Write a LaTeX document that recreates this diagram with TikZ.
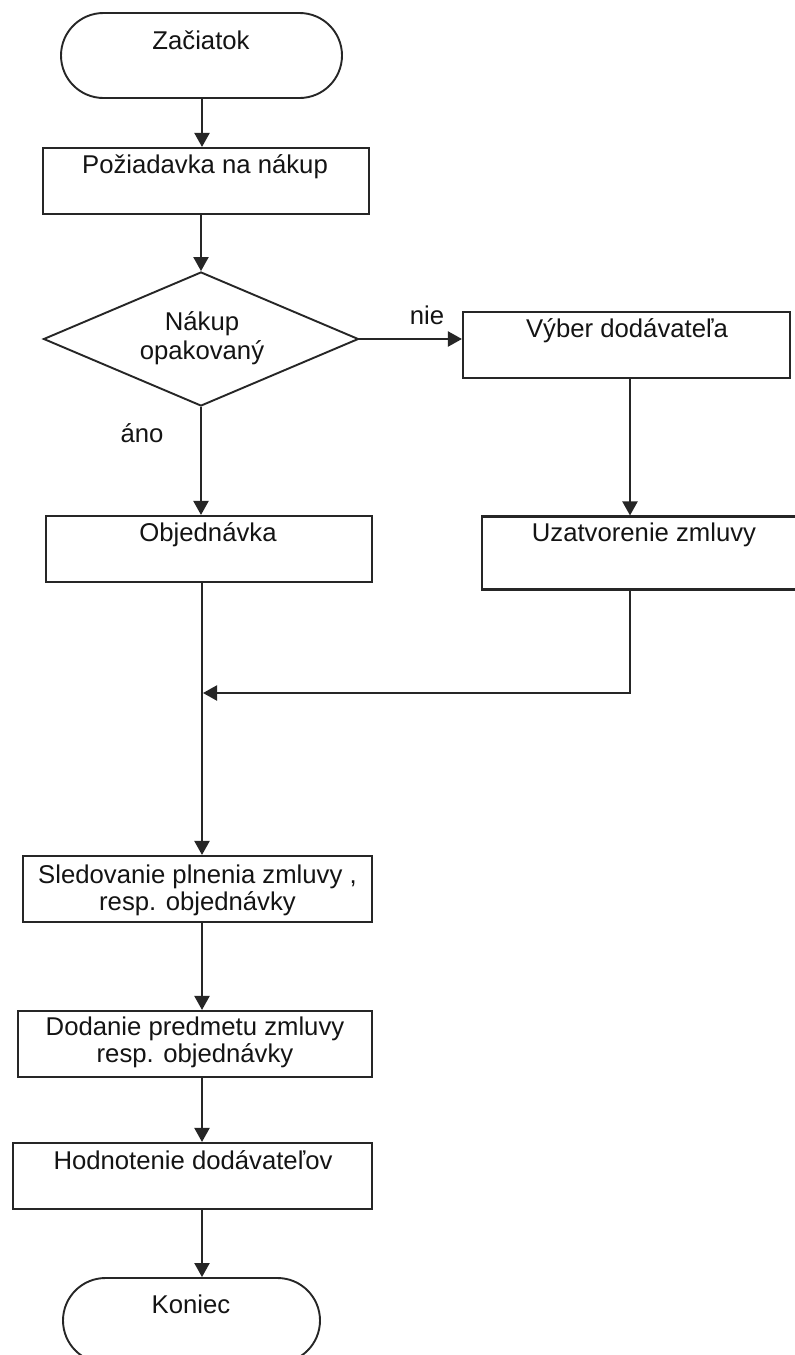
\documentclass[tikz,border=0pt]{standalone}
\usepackage{fontspec}
\setmainfont{Liberation Sans}
\usetikzlibrary{shapes.geometric,shapes.misc,arrows.meta,calc}
\newcommand\twoline[2]{\begin{tabular}[t]{@{}c@{}}#1\\#2\end{tabular}}
\begin{document}
\begin{tikzpicture}[x=1pt,y=-1pt,
  every node/.style={font=\fontsize{25.7}{27}\selectfont},
  shp/.style={draw=black!85, line width=2.1pt, inner sep=0pt, fill=white},
  box/.style={shp, rectangle},
  term/.style={shp, rounded rectangle, line width=1.9pt},
  dec/.style={shp, diamond, line width=1.9pt},
  txt/.style={anchor=base, inner sep=0pt, align=center, text=black!92},
  line/.style={draw=black!85, line width=2.1pt},
  arr/.style={line, -{Triangle[width=15pt,length=14pt]}},
]
\clip (0,0) rectangle (795,1355);
\fill[white] (0,0) rectangle (795,1355);

% shapes
\node[term, minimum width=281pt, minimum height=85pt] (start) at (201.5,55.5) {};
\node[box, minimum width=326pt, minimum height=66pt] (req) at (206,181) {};
\node[dec, minimum width=315pt, minimum height=134pt] (dec) at (201,339) {};
\node[box, minimum width=327pt, minimum height=66pt] (sel) at (626.5,345) {};
\node[box, minimum width=326pt, minimum height=66pt] (ord) at (209,549) {};
\node[box, minimum width=324pt, minimum height=73pt] (con) at (644,553) {};
\node[box, minimum width=349pt, minimum height=66pt] (mon) at (197.5,889) {};
\node[box, minimum width=354pt, minimum height=66pt] (del) at (195,1044) {};
\node[box, minimum width=359pt, minimum height=66pt] (eva) at (192.5,1176) {};
\node[term, minimum width=257pt, minimum height=85pt] (end) at (191.5,1320.5) {};

% texts
\node[txt] (tstart) at (201,49) {Začiatok};
\node[txt] (treq) at (205,173) {Požiadavka na nákup};
\node[txt, font=\fontsize{25.7}{29.5}\selectfont] (tdec) at (202,330) {\twoline{Nákup}{opakovaný}};
\node[txt] (tnie) at (427,324) {nie};
\node[txt] (tsel) at (627,337) {Výber dodávateľa};
\node[txt] (tano) at (142,442) {áno};
\node[txt] (tord) at (208,541) {Objednávka};
\node[txt] (tcon) at (644,541) {Uzatvorenie zmluvy};
\node[txt] (tmon) at (197.5,883) {\twoline{Sledovanie plnenia zmluvy ,}{resp. objednávky}};
\node[txt] (tdel) at (195,1035) {\twoline{Dodanie predmetu zmluvy}{resp. objednávky}};
\node[txt] (teva) at (193,1169) {Hodnotenie dodávateľov};
\node[txt] (tend) at (191,1313) {Koniec};

% connector guides
\coordinate (cx) at (202,0);
\coordinate (rx) at (630,0);
\coordinate (merge) at (203,693);

% connectors
\draw[arr] (start.south -| cx) -- (req.north -| cx);
\draw[arr] (req.south -| dec.north) -- (dec.north);
\draw[arr] (dec.east) -- (dec.east -| sel.west);
\draw[arr] (sel.south -| rx) -- (con.north -| rx);
\draw[arr] (dec.south) -- (ord.north -| dec.south);
\draw[arr] (ord.south -| cx) -- (mon.north -| cx);
\draw[arr] (con.south -| rx) |- (merge);
\draw[arr] (mon.south -| cx) -- (del.north -| cx);
\draw[arr] (del.south -| cx) -- (eva.north -| cx);
\draw[arr] (eva.south -| cx) -- (end.north -| cx);
\end{tikzpicture}
\end{document}
